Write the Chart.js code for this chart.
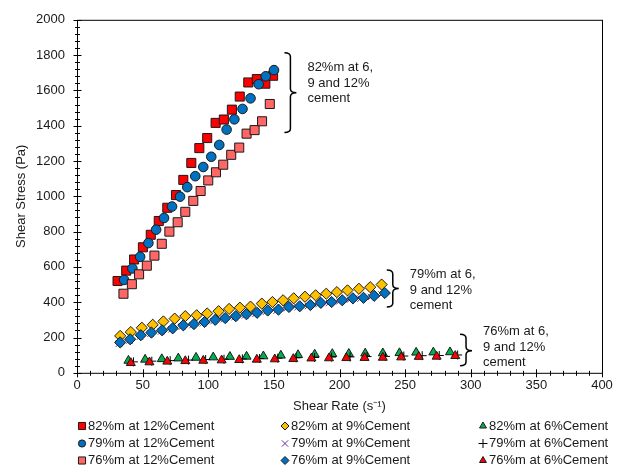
<!DOCTYPE html>
<html>
<head>
<meta charset="utf-8">
<script src="https://cdn.jsdelivr.net/npm/chart.js@4.4.1/dist/chart.umd.min.js"></script>
<style>
    html, body { margin: 0; padding: 0; background: #fff; }
    canvas { display: block; }
</style>
</head>
<body>
<canvas id="shearchart" width="624" height="473"></canvas>
<script>
// shear rate (1/s) and shear stress (Pa), one pair of arrays per mix
var rate82c12 = [30.9, 37.5, 43.5, 50.2, 56.2, 62.3, 68.8, 75.4, 81, 87.1, 93.2, 99.2, 105.6, 111.9, 118, 124, 130.5, 137, 143.5, 149.4];
var stress82c12 = [520, 579, 642, 711, 782, 860, 935, 1007, 1093, 1189, 1273, 1330, 1416, 1435, 1491, 1565, 1645, 1664, 1638, 1683];

var rate82c9 = [32.9, 41, 49.4, 57.7, 65.8, 74.4, 82.5, 91.2, 99.2, 107.9, 115.9, 124.1, 132.2, 140.8, 148.9, 157, 165.1, 173.7, 181.8, 189.9, 198, 206.1, 214.8, 223.4, 232.1];
var stress82c9 = [209, 231, 255, 272, 291, 307, 321, 326, 336, 349, 362, 369, 375, 392, 401, 411, 422, 431, 439, 448, 457, 467, 476, 485, 500];

var rate82c6 = [39.2, 51.9, 64.6, 77.2, 90.7, 103.8, 116.5, 129.2, 142, 155.3, 168.4, 181.1, 194.5, 207.1, 219.6, 233, 245.7, 258.4, 271.5, 284.2];
var stress82c6 = [69, 75, 78, 82, 86, 88, 91, 92, 94, 98, 101, 104, 107, 108, 110, 111, 112, 115, 116, 117];

var rate79c12 = [35.9, 42.2, 48.1, 54.4, 60.3, 66.3, 72.4, 78.5, 84, 90.1, 96.2, 102.3, 108.4, 114, 119.9, 126.1, 132.2, 138.4, 143.8, 150.1];
var stress79c12 = [526, 591, 657, 735, 811, 877, 942, 998, 1052, 1114, 1166, 1224, 1291, 1378, 1436, 1495, 1555, 1635, 1680, 1715];

var rate79c9 = [32, 40, 48, 56, 64, 72, 80, 88, 96, 104, 112, 120, 128, 136, 144, 152, 160, 168, 176, 184, 192, 200, 208, 216, 224, 232];
var stress79c9 = [165, 183, 205, 221, 234, 246, 262, 270, 281, 293, 304, 315, 325, 334, 346, 352, 366, 371, 378, 389, 395, 405, 415, 420, 430, 444];

var rate79c6 = [43, 57, 71, 85, 98, 112, 126, 139, 153, 167, 181, 194, 208, 221, 235, 249, 263, 276, 290];
var stress79c6 = [62, 66, 69, 72, 75, 77, 79, 81, 83, 85, 87, 89, 90, 92, 93, 95, 97, 98, 101];

var rate76c12 = [35.4, 41.8, 47.3, 53.2, 59, 64.6, 70.4, 76.7, 82.5, 88.6, 94.2, 100, 105.9, 111.4, 117.5, 123.6, 129.2, 135.3, 141, 146.9];
var stress76c12 = [448, 502, 558, 607, 664, 731, 800, 853, 912, 974, 1030, 1090, 1136, 1179, 1235, 1276, 1355, 1375, 1425, 1523];

var rate76c9 = [32.9, 40.5, 48.6, 56.7, 64.8, 72.9, 81, 89.1, 97.2, 105.3, 112.9, 121, 129.1, 137.2, 145.3, 153.5, 161.5, 169.7, 177.8, 185.8, 194, 202.1, 210.2, 218.3, 226.4, 234.5];
var stress76c9 = [172, 190, 213, 228, 241, 252, 269, 276, 288, 300, 310, 321, 332, 340, 353, 358, 373, 377, 384, 396, 401, 411, 422, 425, 436, 452];

var rate76c6 = [41, 55.2, 68.8, 82.5, 96.2, 110.2, 123.6, 137, 150.7, 164.8, 178.6, 192, 205.2, 219.1, 233, 247, 260.4, 274, 288.2];
var stress76c6 = [56, 60, 64, 67, 69, 71, 73, 75, 77, 79, 82, 83, 84, 85, 86, 88, 91, 92, 96];

var seriesLabels = [
    '82%m at 12%Cement', '82%m at 9%Cement', '82%m at 6%Cement',
    '79%m at 12%Cement', '79%m at 9%Cement', '79%m at 6%Cement',
    '76%m at 12%Cement', '76%m at 9%Cement', '76%m at 6%Cement'
];

var xTicks = { min: 0, max: 400, step: 50, minor: 10 };
var yTicks = { min: 0, max: 2000, step: 200, minor: 40 };

// brace notes, anchored in data units
var braceNotes = [
    { x: 162.6, top: 1813, bottom: 1362, mid: 1586, textMid: 1641, lines: ['82%m at 6,', '9 and 12%', 'cement'] },
    { x: 240.6, top: 582, bottom: 373, mid: 478, textMid: 468, lines: ['79%m at 6,', '9 and 12%', 'cement'] },
    { x: 296.4, top: 218, bottom: 40, mid: 125, textMid: 144, lines: ['76%m at 6,', '9 and 12%', 'cement'] }
];

var FONT = '"Liberation Sans", Arial, sans-serif';

var pts = function (xs, ys) {
    return xs.map(function (x, i) { return { x: x, y: ys[i] }; });
};

var styles = [
    { rate: rate82c12, stress: stress82c12, shape: 'rect', fill: '#FF0000', line: '#1a1a1a', r: 6.4, lr: 5 },
    { rate: rate82c9, stress: stress82c9, shape: 'rectRot', fill: '#FFC000', line: '#1a1a1a', r: 5.6, lr: 4 },
    { rate: rate82c6, stress: stress82c6, shape: 'triangle', fill: '#00B050', line: '#1a1a1a', r: 5.2, lr: 4 },
    { rate: rate79c12, stress: stress79c12, shape: 'circle', fill: '#0070C0', line: '#1a1a1a', r: 4.8, lr: 3.6 },
    { rate: rate79c9, stress: stress79c9, shape: 'crossRot', fill: '#7030A0', line: '#7030A0', r: 4.5, lr: 4.5 },
    { rate: rate79c6, stress: stress79c6, shape: 'cross', fill: '#000000', line: '#000000', r: 4.5, lr: 4.5 },
    { rate: rate76c12, stress: stress76c12, shape: 'rect', fill: '#FF6666', line: '#1a1a1a', r: 6.4, lr: 5 },
    { rate: rate76c9, stress: stress76c9, shape: 'rectRot', fill: '#0070C0', line: '#1a1a1a', r: 5.6, lr: 4 },
    { rate: rate76c6, stress: stress76c6, shape: 'triangle', fill: '#FF0000', line: '#1a1a1a', r: 5.2, lr: 4 }
];

var datasets = styles.map(function (s, i) {
    return {
        label: seriesLabels[i],
        data: pts(s.rate, s.stress),
        pointStyle: s.shape,
        pointRadius: s.r,
        pointHoverRadius: s.r,
        backgroundColor: s.fill,
        borderColor: s.line,
        pointBorderWidth: 1,
        legendRadius: s.lr,
        showLine: false,
        order: styles.length - i
    };
});

// plot frame plus ticks crossing the axes
var frameTicks = {
    id: 'frameTicks',
    beforeDatasetsDraw: function (chart) {
        var ctx = chart.ctx, a = chart.chartArea;
        var xs = chart.scales.x, ys = chart.scales.y;
        ctx.save();
        ctx.strokeStyle = '#000';
        ctx.lineWidth = 1;
        ctx.strokeRect(a.left + 0.5, a.top + 0.5, a.right - a.left, a.bottom - a.top);
        ctx.beginPath();
        var v, p, len;
        for (v = xTicks.min; v <= xTicks.max; v += xTicks.minor) {
            p = Math.round(xs.getPixelForValue(v)) + 0.5;
            len = v % xTicks.step === 0 ? 4 : 2.5;
            ctx.moveTo(p, a.bottom + 0.5 - len);
            ctx.lineTo(p, a.bottom + 0.5 + len);
        }
        for (v = yTicks.min; v <= yTicks.max; v += yTicks.minor) {
            p = Math.round(ys.getPixelForValue(v)) + 0.5;
            len = v % yTicks.step === 0 ? 4 : 2.5;
            ctx.moveTo(a.left + 0.5 - len, p);
            ctx.lineTo(a.left + 0.5 + len, p);
        }
        ctx.stroke();
        ctx.restore();
    }
};

var braces = {
    id: 'braces',
    afterDatasetsDraw: function (chart) {
        var ctx = chart.ctx;
        var xs = chart.scales.x, ys = chart.scales.y;
        ctx.save();
        ctx.strokeStyle = '#000';
        ctx.lineWidth = 1.5;
        ctx.fillStyle = '#1a1a1a';
        ctx.font = '13px ' + FONT;
        ctx.textBaseline = 'middle';
        braceNotes.forEach(function (b) {
            var x = xs.getPixelForValue(b.x);
            var t = ys.getPixelForValue(b.top);
            var bt = ys.getPixelForValue(b.bottom);
            var m = ys.getPixelForValue(b.mid);
            var tm = ys.getPixelForValue(b.textMid);
            var w = 6, c = 4;
            ctx.beginPath();
            ctx.moveTo(x - w, t);
            ctx.quadraticCurveTo(x, t, x, t + c);
            ctx.lineTo(x, m - c);
            ctx.quadraticCurveTo(x, m, x + w, m);
            ctx.quadraticCurveTo(x, m, x, m + c);
            ctx.lineTo(x, bt - c);
            ctx.quadraticCurveTo(x, bt, x - w, bt);
            ctx.stroke();
            b.lines.forEach(function (txt, k) {
                ctx.fillText(txt, x + 17, tm + (k - 1) * 15.5);
            });
        });
        ctx.restore();
    }
};

// three-column legend under the x axis title
var gridLegend = {
    id: 'gridLegend',
    afterDraw: function (chart) {
        var ctx = chart.ctx;
        var colX = [82, 285, 483];
        var rowY = [426, 443.5, 460.5];
        ctx.save();
        ctx.font = '13px ' + FONT;
        ctx.textBaseline = 'middle';
        chart.data.datasets.forEach(function (ds, i) {
            var x = colX[i % 3], y = rowY[Math.floor(i / 3)];
            ctx.fillStyle = ds.backgroundColor;
            ctx.strokeStyle = ds.borderColor;
            ctx.lineWidth = 1;
            Chart.helpers.drawPoint(ctx, { pointStyle: ds.pointStyle, radius: ds.legendRadius, borderWidth: 1 }, x, y);
            ctx.fillStyle = '#1a1a1a';
            ctx.fillText(ds.label, x + 6, y);
        });
        ctx.restore();
    }
};

Chart.defaults.font.family = FONT;
Chart.defaults.font.size = 13;
Chart.defaults.color = '#1a1a1a';

var ctx = document.getElementById('shearchart').getContext('2d');
var shearChart = new Chart(ctx, {
    type: 'scatter',
    data: { datasets: datasets },
    options: {
        responsive: false,
        devicePixelRatio: 1,
        animation: false,
        layout: { padding: { left: 0, right: 22, top: 13, bottom: 59 } },
        plugins: {
            legend: { display: false },
            tooltip: { enabled: false }
        },
        scales: {
            x: {
                type: 'linear',
                min: xTicks.min,
                max: xTicks.max,
                grid: { display: false, drawTicks: false },
                border: { display: false },
                ticks: { stepSize: xTicks.step, padding: 5, maxRotation: 0 },
                title: { display: true, text: 'Shear Rate (s\u207B\u00B9)', padding: { top: 0, bottom: 0 } }
            },
            y: {
                type: 'linear',
                min: yTicks.min,
                max: yTicks.max,
                grid: { display: false, drawTicks: false },
                border: { display: false },
                ticks: {
                    stepSize: yTicks.step,
                    padding: 12,
                    callback: function (v) { return String(v); }
                },
                title: { display: true, text: 'Shear Stress (Pa)', padding: { top: 14, bottom: 0 } },
                afterFit: function (scale) { scale.width = 77; }
            }
        }
    },
    plugins: [frameTicks, braces, gridLegend]
});
</script>
</body>
</html>
